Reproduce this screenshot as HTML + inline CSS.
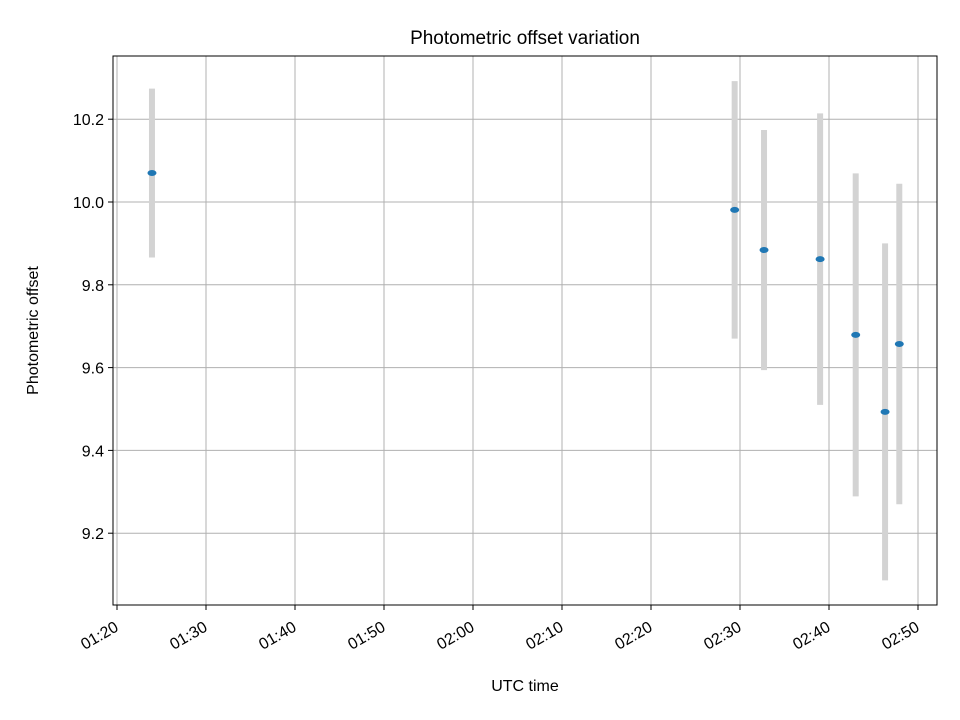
<!DOCTYPE html>
<html><head><meta charset="utf-8"><style>
body{margin:0;background:#fff;}
svg{display:block;font-family:"Liberation Sans","DejaVu Sans",sans-serif;}
</style></head><body>
<svg id="chart" width="960" height="720" viewBox="0 0 960 720"></svg>
<script>
const yTicks=[9.2,9.4,9.6,9.8,10.0,10.2];
const xTickLabels=["01:20","01:30","01:40","01:50","02:00","02:10","02:20","02:30","02:40","02:50"];
const xTickMinutes=[80,90,100,110,120,130,140,150,160,170];
const timesMin=[83.93,149.4,152.7,159.0,163.0,166.3,167.9];
const offsets=[10.07,9.981,9.884,9.862,9.679,9.493,9.657];
const errors=[0.204,0.311,0.29,0.352,0.39,0.407,0.387];

const L=113,R=937,T=56,B=605;
const xS=m=>117+(m-80)*8.9;
const yS=v=>202-(v-10)*414;
const svg=document.getElementById('chart');
const NS='http://www.w3.org/2000/svg';
function mk(tag,attrs,parent){const e=document.createElementNS(NS,tag);for(const k in attrs)e.setAttribute(k,attrs[k]);(parent||svg).appendChild(e);return e;}

const grid=mk('g',{});


xTickMinutes.forEach((m,i)=>{
  const x=xS(m);
  const gl=mk('line',{x1:x,x2:x,y1:T,y2:B,stroke:'#b0b0b0','stroke-width':1},grid);
  
  
  const tk=mk('line',{x1:x,x2:x,y1:B,y2:B+5,stroke:'#000','stroke-width':1});
  
  
  const t=mk('text',{x:0,y:0,'font-size':16,'text-anchor':'end',transform:`translate(${x-4},${B+14}) rotate(-30)`,dy:'0.8em'});
  t.textContent=xTickLabels[i];
  
  
});
yTicks.forEach(v=>{
  const y=yS(v);
  const gl=mk('line',{x1:L,x2:R,y1:y,y2:y,stroke:'#b0b0b0','stroke-width':1},grid);
  
  
  const tk=mk('line',{x1:L-5,x2:L,y1:y,y2:y,stroke:'#000','stroke-width':1});
  
  
  const t=mk('text',{x:L-9,y:y+6,'font-size':16,'text-anchor':'end'});
  t.textContent=v.toFixed(1);
  
  
});
timesMin.forEach((m,i)=>{
  const x=xS(m);
  const eb=mk('line',{x1:x,x2:x,y1:yS(offsets[i]+errors[i]),y2:yS(offsets[i]-errors[i]),stroke:'#d3d3d3','stroke-width':6});
  
  
});
timesMin.forEach((m,i)=>{
  const p=mk('ellipse',{cx:xS(m),cy:yS(offsets[i]),rx:4.5,ry:3,fill:'#1f77b4'});
  
  
});
const fr=mk('rect',{x:L,y:T,width:R-L,height:B-T,fill:'none',stroke:'#000','stroke-width':1});


const title=mk('text',{x:(L+R)/2,y:44,'font-size':19,'text-anchor':'middle'});
title.textContent='Photometric offset variation';


const xt=mk('text',{x:(L+R)/2,y:691,'font-size':16,'text-anchor':'middle'});
xt.textContent='UTC time';


const yt=mk('text',{x:0,y:0,'font-size':16,'text-anchor':'middle',transform:`translate(38,${(T+B)/2}) rotate(-90)`});
yt.textContent='Photometric offset';


</script>
</body></html>
